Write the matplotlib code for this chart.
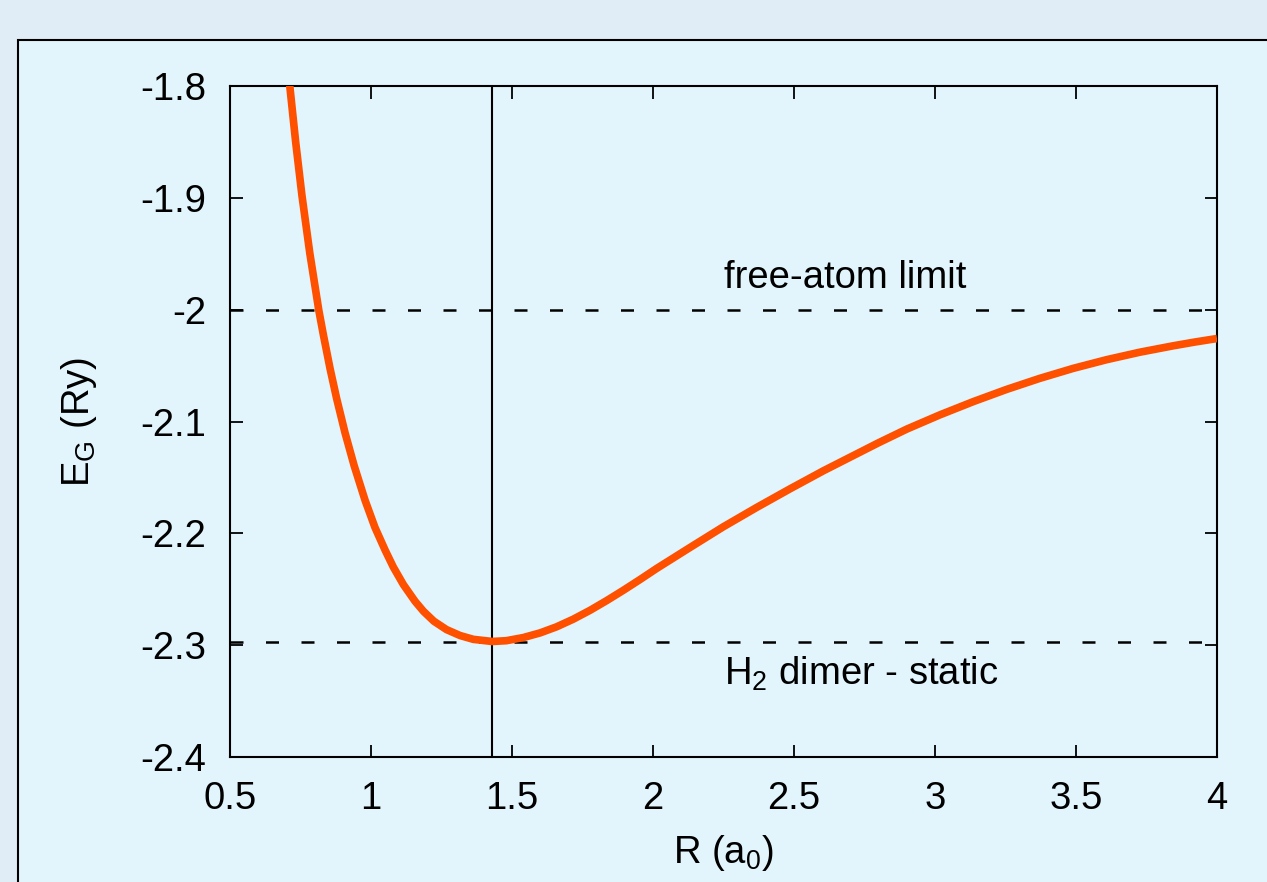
import matplotlib
matplotlib.use("Agg")
import matplotlib.pyplot as plt
from matplotlib.patches import Rectangle

plt.rcParams['font.family'] = ['Liberation Sans', 'DejaVu Sans']
plt.rcParams['mathtext.fontset'] = 'custom'
plt.rcParams['mathtext.rm'] = 'Liberation Sans'
plt.rcParams['mathtext.it'] = 'Liberation Sans'

# Data (R in a0, E_G in Ry)
R = [0.700, 0.712, 0.733, 0.755, 0.783, 0.815, 0.831, 0.855, 0.878, 0.908,
     0.940, 0.979, 1.014, 1.050, 1.079, 1.115, 1.156, 1.186, 1.223, 1.268,
     1.316, 1.363, 1.430, 1.480, 1.540, 1.600, 1.658, 1.717, 1.777, 1.836,
     1.895, 1.954, 2.013, 2.131, 2.249, 2.368, 2.486, 2.604, 2.700, 2.800,
     2.900, 3.018, 3.136, 3.254, 3.372, 3.490, 3.609, 3.727, 3.845, 3.920,
     4.000]
E = [-1.770, -1.800, -1.8504, -1.8977, -1.9495, -2.0007, -2.0224, -2.0529,
     -2.0793, -2.1102, -2.1393, -2.1705, -2.1947, -2.2150, -2.2301, -2.2459,
     -2.2607, -2.2697, -2.2786, -2.2861, -2.2914, -2.2948, -2.2967, -2.2960,
     -2.2932, -2.2890, -2.2836, -2.2768, -2.2688, -2.2601, -2.2509, -2.2413,
     -2.2314, -2.2127, -2.1942, -2.1768, -2.1602, -2.1441, -2.1318, -2.1190,
     -2.1068, -2.0940, -2.0822, -2.0713, -2.0614, -2.0525, -2.0447, -2.0380,
     -2.0323, -2.0290, -2.0258]

free_atom = -2.0
dimer_static = -2.297
R_min = 1.43

xticks = [0.5, 1, 1.5, 2, 2.5, 3, 3.5, 4]
xticklabels = ['0.5', '1', '1.5', '2', '2.5', '3', '3.5', '4']
yticks = [-2.4, -2.3, -2.2, -2.1, -2.0, -1.9, -1.8]
yticklabels = ['-2.4', '-2.3', '-2.2', '-2.1', '-2', '-1.9', '-1.8']

FS = 27.5
W, H = 1267, 882
fig = plt.figure(figsize=(W / 100, H / 100), dpi=100)
fig.patch.set_facecolor('#e1edf6')

panel = Rectangle((18 / W, -0.1), 1.2, (H - 40) / H + 0.1,
                  transform=fig.transFigure, facecolor='#e2f5fc',
                  edgecolor='black', linewidth=1.5, zorder=-10)
fig.patches.append(panel)

ax = fig.add_axes([230 / W, 1 - 757 / H, (1217 - 230) / W, (757 - 86) / H])
ax.set_zorder(5)
ax.set_facecolor('#e2f5fc')

ax.axhline(free_atom, color='black', lw=1.8, dashes=(5.2, 9.0), zorder=2)
ax.axhline(dimer_static, color='black', lw=1.8, dashes=(5.2, 9.0), zorder=2)
ax.axvline(R_min, color='black', lw=1.5, zorder=2)
ax.plot(R, E, color='#ff5000', lw=5.5, solid_joinstyle='round',
        solid_capstyle='butt', zorder=3)

ax.set_xlim(0.5, 4.0)
ax.set_ylim(-2.4, -1.8)
ax.set_xticks(xticks)
ax.set_xticklabels(xticklabels)
ax.set_yticks(yticks)
ax.set_yticklabels(yticklabels)
ax.tick_params(direction='in', length=9, width=1.3, labelsize=FS,
               top=True, right=True)
ax.tick_params(axis='x', pad=17)
ax.tick_params(axis='y', pad=17)
for s in ax.spines.values():
    s.set_linewidth(1.5)

ax.text(2.252, -1.972, 'free-atom limit', fontsize=FS, va='center', ha='left')
ax.text(2.252, -2.326, 'H$_2$ dimer - static', fontsize=FS, va='center', ha='left')

ax.set_xlabel('R (a$_0$)', fontsize=FS, labelpad=12)
ax.set_ylabel('E$_G$ (Ry)', fontsize=FS, labelpad=30)

fig.savefig('out.png', dpi=100, facecolor=fig.get_facecolor())
